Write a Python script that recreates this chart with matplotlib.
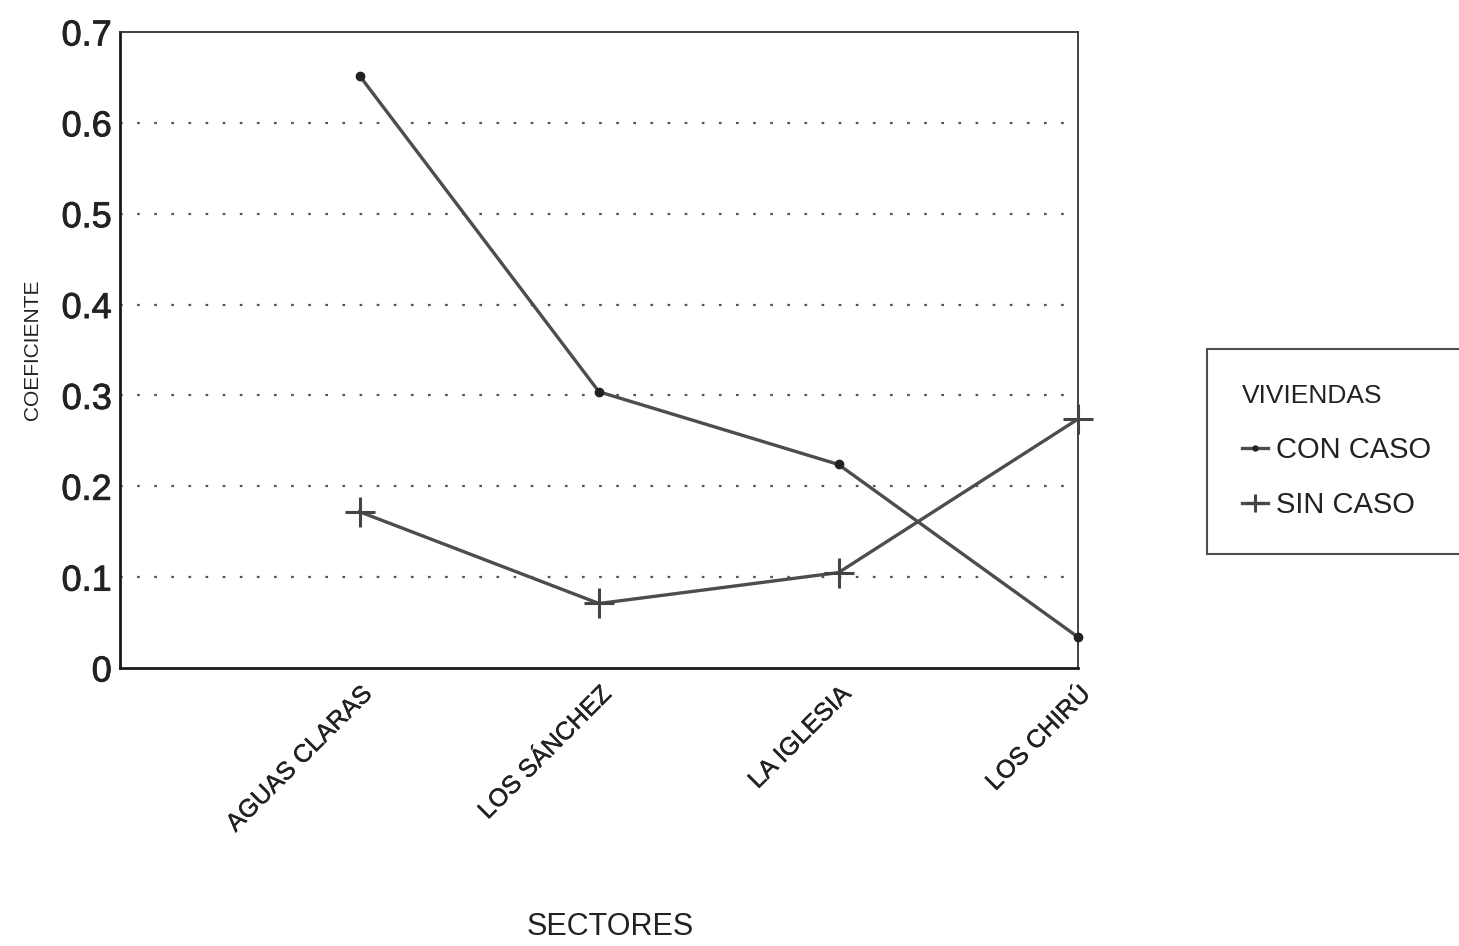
import matplotlib
matplotlib.use("Agg")
import matplotlib.pyplot as plt
import matplotlib.patheffects as pe

sectores = ["AGUAS CLARAS", "LOS SÁNCHEZ", "LA IGLESIA", "LOS CHIRÚ"]
con_caso = [0.652, 0.304, 0.224, 0.034]
sin_caso = [0.172, 0.071, 0.105, 0.274]
y_ticks = [0, 0.1, 0.2, 0.3, 0.4, 0.5, 0.6, 0.7]
y_labels = ["0", "0.1", "0.2", "0.3", "0.4", "0.5", "0.6", "0.7"]

plt.rcParams['font.family'] = ['Liberation Sans', 'DejaVu Sans']

fig = plt.figure(figsize=(14.59, 9.46), dpi=100)
ax = fig.add_axes([120/1459, 278/946, (1078-120)/1459, (668-32)/946])

x = list(range(1, len(sectores) + 1))
line_color = "#4d4d4d"
ax.plot(x, con_caso, color=line_color, lw=2.4, marker='o', ms=6,
        mfc="#222222", mec="#222222", label="CON CASO", clip_on=False, zorder=3)
ax.plot(x, sin_caso, color=line_color, lw=2.4, marker='+', ms=22, mew=2.2,
        mec="#444444", label="SIN CASO", clip_on=False, zorder=3)

ax.set_xlim(0, 4)
ax.set_ylim(0, 0.7)
ax.set_yticks(y_ticks)
ax.set_yticklabels(y_labels, fontsize=26, color="#222222")
ax.set_xticks(x)
ax.set_xticklabels(sectores, rotation=45, ha='right', rotation_mode='anchor',
                   fontsize=18, color="#222222")
for t in ax.get_yticklabels():
    t.set_path_effects([pe.withStroke(linewidth=0.6, foreground="#222222")])
for t in ax.get_xticklabels():
    t.set_path_effects([pe.withStroke(linewidth=0.3, foreground="#222222")])
ax.tick_params(axis='both', length=0)
ax.tick_params(axis='y', pad=6)
ax.tick_params(axis='x', pad=10)

for yv in y_ticks[1:-1]:
    ax.axhline(yv, color="#555555", lw=1.6, ls=(0, (1.2, 6.5)), zorder=1)

for side in ['left', 'bottom']:
    ax.spines[side].set_linewidth(2.0)
    ax.spines[side].set_color("#1a1a1a")
for side in ['top', 'right']:
    ax.spines[side].set_linewidth(1.3)
    ax.spines[side].set_color("#333333")

ax.set_ylabel("COEFICIENTE", fontsize=15, color="#222222", labelpad=14)
fig.text(610/1459, 1 - 927/946, "SECTORES", fontsize=22, color="#222222",
         ha='center', va='center')

leg = fig.legend(loc='upper left', bbox_to_anchor=(1207/1459, 1 - 349/946),
                 borderaxespad=0,
                 title="VIVIENDAS", fontsize=21, title_fontsize=19,
                 handlelength=0.9, handletextpad=0.25, labelspacing=0.95,
                 borderpad=1.2, frameon=True, fancybox=False, alignment='left',
                 markerscale=0.6)
leg.get_frame().set_edgecolor("#222222")
leg.get_frame().set_linewidth(1.5)
for t in leg.get_texts():
    t.set_color("#222222")
leg.get_title().set_color("#222222")

fig.savefig("out.png", dpi=100)
